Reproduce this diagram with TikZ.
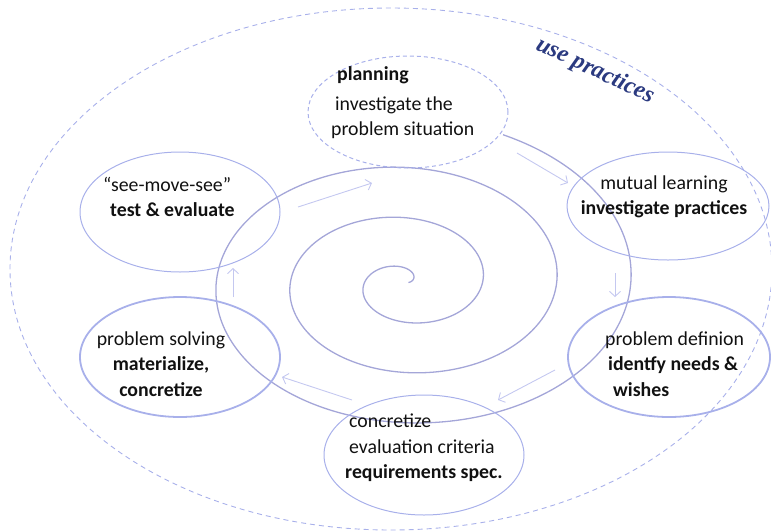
\documentclass[tikz,border=0pt]{standalone}
\usepackage{fontspec}
\setmainfont{Carlito}
\newfontfamily\serifa{Liberation Serif}
\usepackage{tikz}
\usetikzlibrary{arrows.meta,shapes.geometric}
\definecolor{lila}{HTML}{A8B0EA}
\definecolor{lilaclaro}{HTML}{C4C8F0}
\definecolor{lilaosc}{HTML}{A4A6D8}
\definecolor{tinta}{HTML}{111111}
\definecolor{marino}{HTML}{2B3A80}
\tikzset{
  burbuja/.style={ellipse,draw=lila,line width=1pt,inner sep=0pt,minimum width=200pt,minimum height=120pt},
  burbujagruesa/.style={burbuja,line width=1.8pt},
  burbujaraya/.style={burbuja,dash pattern=on 4pt off 3pt},
  texto/.style={font=\fontsize{19.8}{25.5}\selectfont,text=tinta,inner sep=0pt},
  rotulo/.style={font=\serifa\fontsize{24}{24}\selectfont\bfseries\itshape,text=marino,inner sep=0pt},
  flecha/.style={draw=lilaclaro,line width=0.9pt,-{Straight Barb[length=5pt,width=11pt]}},
  espiral/.style={draw=lilaosc,line width=1.3pt},
  contorno/.style={draw=lila,line width=0.9pt,dash pattern=on 5pt off 4pt},
}

\begin{document}
\begin{tikzpicture}[x=1pt,y=-1pt]
\clip (0,0) rectangle (771,531);
% outer field
\draw[contorno] (391,269) ellipse [x radius=381, y radius=261];
\node[rotulo,rotate=-25] (campo) at (595,71) {use practices};
% spiral
\draw[espiral] plot[domain=0:20,samples=600,smooth,variable=\t]
  ({405+(3.4+11.8*\t)*cos(\t r)},{282.5-(2+8*\t)*sin(\t r)});
% phases
\node[burbujaraya,minimum height=112pt] (plan) at (408,112) {};
\node[burbuja,minimum width=202pt,minimum height=108pt] (mutua) at (668,206) {};
\node[burbujagruesa,minimum width=202pt] (definicion) at (669,357) {};
\node[burbuja] (criterios) at (424,455) {};
\node[burbujagruesa] (solucion) at (180,357) {};
\node[burbuja] (prueba) at (180,212) {};
\node[texto,align=left,anchor=west] (tplan) at (331,103)
  {\hspace{6pt}\textbf{planning}\\[4pt] \hspace{4pt}investigate the\\ problem situation};
\node[texto,align=center] (tmutua) at (664,197)
  {mutual learning\\ \textbf{investigate practices}};
\node[texto,align=left,anchor=west] (tdefinicion) at (605,364)
  {problem definion\\ \hspace{3pt}\textbf{identfy needs \&}\\ \hspace{8pt}\textbf{wishes}};
\node[texto,align=left,anchor=west] (tcriterios) at (345,448)
  {\hspace{4pt}concretize\\ \hspace{4pt}evaluation criteria\\ \textbf{requirements spec.}};
\node[texto,align=center] (tsolucion) at (161,364)
  {problem solving\\ \textbf{materialize,}\\ \textbf{concretize}};
\node[texto,align=left,anchor=west] (tprueba) at (103,197)
  {“see-move-see”\\ \hspace{7pt}\textbf{test \& evaluate}};
% cycle arrows
\coordinate (f1a) at (298,207); \coordinate (f1b) at (372,183);
\coordinate (f2a) at (517,153); \coordinate (f2b) at (568,183);
\coordinate (f3a) at (615,273); \coordinate (f3b) at (615,297);
\coordinate (f4a) at (555,370); \coordinate (f4b) at (498,400);
\coordinate (f5a) at (352,400); \coordinate (f5b) at (282,377);
\coordinate (f6a) at (233,297); \coordinate (f6b) at (233,268);
\draw[flecha] (f1a) -- (f1b);
\draw[flecha] (f2a) -- (f2b);
\draw[flecha] (f3a) -- (f3b);
\draw[flecha] (f4a) -- (f4b);
\draw[flecha] (f5a) -- (f5b);
\draw[flecha] (f6a) -- (f6b);
\end{tikzpicture}
\end{document}
